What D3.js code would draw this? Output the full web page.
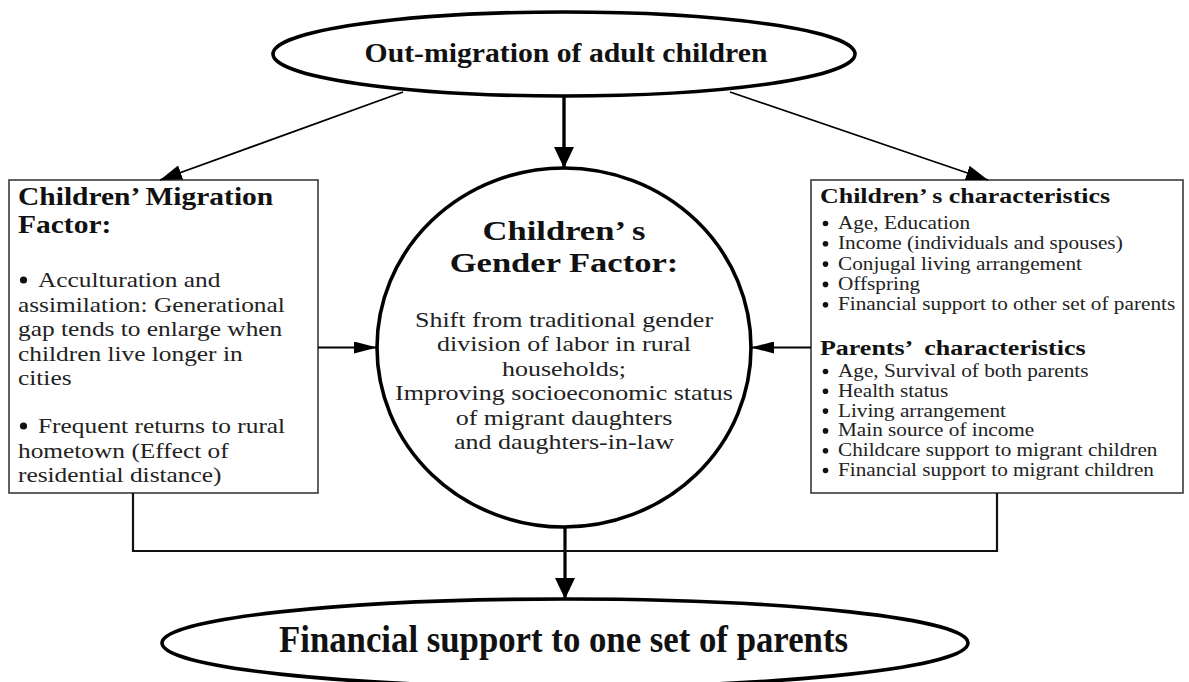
<!DOCTYPE html>
<html>
<head>
<meta charset="utf-8">
<script src="https://cdn.jsdelivr.net/npm/d3@7/dist/d3.min.js"></script>
<style>
  body { margin: 0; background: #fff; }
  svg { display: block; }
  text { white-space: pre; }
</style>
</head>
<body>
<svg id="chart"></svg>
<script>
// Conceptual framework: migration / gender / characteristics -> financial support.
// All wording lives in these arrays; layout constants sit below them.

const topLabel = "Out-migration of adult children";
const bottomLabel = "Financial support to one set of parents";

const migrationTitle = ["Children\u2019 Migration", "Factor:"];
const migrationBullets = [
  ["Acculturation and", "assimilation: Generational", "gap tends to enlarge when", "children live longer in", "cities"],
  ["Frequent returns to rural", "hometown (Effect of", "residential distance)"]
];

const genderTitle = ["Children\u2019 s", "Gender Factor:"];
const genderBody = [
  "Shift from traditional gender",
  "division of labor in rural",
  "households;",
  "Improving socioeconomic status",
  "of migrant daughters",
  "and daughters-in-law"
];

const childTitle = "Children\u2019 s characteristics";
const childItems = [
  "Age, Education",
  "Income (individuals and spouses)",
  "Conjugal living arrangement",
  "Offspring",
  "Financial support to other set of parents"
];
const parentTitle = "Parents\u2019  characteristics";
const parentItems = [
  "Age, Survival of both parents",
  "Health status",
  "Living arrangement",
  "Main source of income",
  "Childcare support to migrant children",
  "Financial support to migrant children"
];

const W = 1189, H = 682;
const SERIF = "'Liberation Serif', 'Times New Roman', Times, serif";

// Shapes.
const topEl = { cx: 564, cy: 54, rx: 291, ry: 42 };
const mid = { cx: 564, cy: 347.5, rx: 187, ry: 179.5 };
const botEl = { cx: 565, cy: 643, rx: 403, ry: 44 };
const leftBox = { x: 9, y: 180, w: 309, h: 313 };
const rightBox = { x: 811, y: 180, w: 372, h: 313 };
const joinY = 551, leftDrop = 133, rightDrop = 997;

const svg = d3.select("#chart").attr("width", W).attr("height", H)
  .attr("viewBox", `0 0 ${W} ${H}`);

svg.append("rect").attr("width", W).attr("height", H).attr("fill", "#fff");

const defs = svg.append("defs");
function marker(id, len, hw) {
  defs.append("marker")
    .attr("id", id)
    .attr("viewBox", `0 0 ${len} ${hw * 2}`)
    .attr("refX", len).attr("refY", hw)
    .attr("markerWidth", len).attr("markerHeight", hw * 2)
    .attr("markerUnits", "userSpaceOnUse")
    .attr("orient", "auto")
    .append("path")
    .attr("d", `M0,0 L${len},${hw} L0,${hw * 2} Z`)
    .attr("fill", "#000");
}
marker("big", 21, 10);
marker("side", 23, 6);
marker("diag", 22, 7.5);

// Boxes.
[leftBox, rightBox].forEach((b) => {
  svg.append("rect")
    .attr("x", b.x).attr("y", b.y).attr("width", b.w).attr("height", b.h)
    .attr("fill", "#fff").attr("stroke", "#3a3a3a").attr("stroke-width", 1.6);
});

// Ellipses.
[topEl, mid, botEl].forEach((e) => {
  svg.append("ellipse")
    .attr("cx", e.cx).attr("cy", e.cy).attr("rx", e.rx).attr("ry", e.ry)
    .attr("fill", "#fff").attr("stroke", "#000").attr("stroke-width", 3.6);
});

// Connectors.
const line = (x1, y1, x2, y2, w, m) => svg.append("line")
  .attr("x1", x1).attr("y1", y1).attr("x2", x2).attr("y2", y2)
  .attr("stroke", "#000").attr("stroke-width", w)
  .attr("marker-end", m ? `url(#${m})` : null);

line(403, 92, 160, 180, 1.8, "diag");
line(730, 92, 988, 180, 1.8, "diag");
line(topEl.cx, topEl.cy + topEl.ry, topEl.cx, mid.cy - mid.ry, 3.4, "big");
line(leftBox.x + leftBox.w, mid.cy, mid.cx - mid.rx, mid.cy, 2, "side");
line(rightBox.x, mid.cy, mid.cx + mid.rx, mid.cy, 2, "side");
line(mid.cx + 1, mid.cy + mid.ry, mid.cx + 1, botEl.cy - botEl.ry, 3.2, "big");

svg.append("path")
  .attr("d", d3.line()([
    [leftDrop, leftBox.y + leftBox.h], [leftDrop, joinY],
    [rightDrop, joinY], [rightDrop, rightBox.y + rightBox.h]
  ]))
  .attr("fill", "none").attr("stroke", "#111").attr("stroke-width", 2.2);

// Text helper: horizontally stretched serif text, as in the source figure.
function label(x, y, str, { size, bold = false, anchor = "start", sx = 1, fill = "#111" }) {
  svg.append("text")
    .attr("transform", `translate(${x},${y}) scale(${sx},1)`)
    .attr("text-anchor", anchor)
    .attr("font-family", SERIF)
    .attr("font-size", size)
    .attr("font-weight", bold ? "bold" : "normal")
    .attr("fill", fill)
    .attr("xml:space", "preserve")
    .text(str);
}

function bullet(x, y, r) {
  svg.append("circle").attr("cx", x).attr("cy", y).attr("r", r).attr("fill", "#111");
}

label(topEl.cx + 2, 62, topLabel, { size: 27, bold: true, anchor: "middle", sx: 1.1 });

// Bottom label is drawn condensed.
svg.append("text")
  .attr("x", 279).attr("y", 652)
  .attr("font-family", SERIF).attr("font-size", 37).attr("font-weight", "bold")
  .attr("fill", "#111")
  .attr("textLength", 569).attr("lengthAdjust", "spacingAndGlyphs")
  .text(bottomLabel);

// Left box.
migrationTitle.forEach((t, i) => label(18, 205 + i * 28, t, { size: 25, bold: true, sx: 1.18 }));
const bulletStarts = [287, 433];
migrationBullets.forEach((group, gi) => {
  group.forEach((t, i) => {
    const y = bulletStarts[gi] + i * 24.5;
    if (i === 0) {
      bullet(23.5, y - 7, 3.6);
      label(38, y, t, { size: 21.5, sx: 1.18, fill: "#222" });
    } else {
      label(18, y, t, { size: 21.5, sx: 1.18, fill: "#222" });
    }
  });
});

// Centre.
genderTitle.forEach((t, i) => label(mid.cx, 240 + i * 32, t, { size: 27, bold: true, anchor: "middle", sx: 1.28 }));
genderBody.forEach((t, i) => label(mid.cx, 327 + i * 24.4, t, { size: 20, anchor: "middle", sx: 1.3, fill: "#222" }));

// Right box.
label(820, 203, childTitle, { size: 22, bold: true, sx: 1.18 });
childItems.forEach((t, i) => {
  const y = 229 + i * 20.3;
  bullet(825.5, y - 5.5, 2.8);
  label(838, y, t, { size: 18, sx: 1.18, fill: "#222" });
});
label(820, 355, parentTitle, { size: 22, bold: true, sx: 1.18 });
parentItems.forEach((t, i) => {
  const y = 377 + i * 19.8;
  bullet(825.5, y - 5.5, 2.8);
  label(838, y, t, { size: 18, sx: 1.18, fill: "#222" });
});
</script>
</body>
</html>
